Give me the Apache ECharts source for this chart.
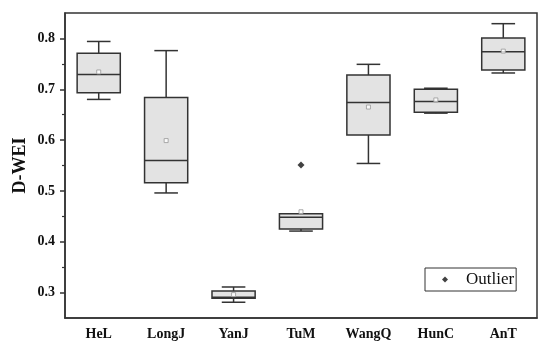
<!DOCTYPE html>
<html>
<head>
<meta charset="utf-8">
<script src="https://cdn.jsdelivr.net/npm/echarts@6/dist/echarts.min.js"></script>
<style>html,body{margin:0;padding:0;background:#fff;}#c{width:550px;height:349px;}</style>
</head>
<body>
<div id="c"></div>
<script>
var categories = ['HeL','LongJ','YanJ','TuM','WangQ','HunC','AnT'];
var mins    = [0.680,0.496,0.281,0.421,0.554,0.653,0.732];
var q1s     = [0.693,0.516,0.289,0.425,0.610,0.655,0.738];
var medians = [0.729,0.560,0.291,0.448,0.674,0.676,0.774];
var q3s     = [0.771,0.684,0.303,0.455,0.728,0.700,0.801];
var maxs    = [0.794,0.776,0.311,0.455,0.749,0.702,0.829];
var means   = [0.734,0.599,0.296,0.459,0.665,0.679,0.775];
var outlierCats = ['TuM'];
var outlierVals = [0.551];
var majorTicks = [0.3,0.4,0.5,0.6,0.7,0.8];
var minorTicks = [0.35,0.45,0.55,0.65,0.75];

var boxData = categories.map(function(c,i){return [i,mins[i],q1s[i],medians[i],q3s[i],maxs[i]];});
var meanData = categories.map(function(c,i){return [i,means[i]];});
var outData = outlierCats.map(function(c,i){return [categories.indexOf(c),outlierVals[i]];});

var lc = '#333333';
var font = 'Liberation Serif';

function renderBox(params, api){
  var x = api.value(0);
  var band = api.size([1,0])[0];
  var bw = band*0.64, cw = band*0.35;
  var pMin = api.coord([x, api.value(1)]);
  var pQ1 = api.coord([x, api.value(2)]);
  var pMed = api.coord([x, api.value(3)]);
  var pQ3 = api.coord([x, api.value(4)]);
  var pMax = api.coord([x, api.value(5)]);
  var cx = pMed[0];
  var st = {stroke: lc, lineWidth: 1.5, fill: null};
  return {type:'group', children:[
    {type:'line', shape:{x1:cx,y1:pMax[1],x2:cx,y2:pQ3[1]}, style:st},
    {type:'line', shape:{x1:cx,y1:pQ1[1],x2:cx,y2:pMin[1]}, style:st},
    {type:'line', shape:{x1:cx-cw/2,y1:pMax[1],x2:cx+cw/2,y2:pMax[1]}, style:st},
    {type:'line', shape:{x1:cx-cw/2,y1:pMin[1],x2:cx+cw/2,y2:pMin[1]}, style:st},
    {type:'rect', shape:{x:cx-bw/2,y:pQ3[1],width:bw,height:pQ1[1]-pQ3[1]}, style:{fill:'#e3e3e3',stroke:lc,lineWidth:1.5}},
    {type:'line', shape:{x1:cx-bw/2,y1:pMed[1],x2:cx+bw/2,y2:pMed[1]}, style:st}
  ]};
}

var chart = echarts.init(document.getElementById('c'));
chart.setOption({
  animation:false,
  backgroundColor:'#fff',
  grid:{left:65, top:13, right:13, bottom:31, show:true, borderColor:lc, borderWidth:1.5},
  legend:{
    data:['Outlier'], left:425, top:268, orient:'horizontal',
    borderColor:lc, borderWidth:1, borderRadius:0, padding:[3,2,3,17],
    itemWidth:6, itemHeight:6,
    textStyle:{fontFamily:font, fontSize:17, color:'#111', padding:[0,0,0,13]}
  },
  xAxis:{
    type:'category', data:categories, boundaryGap:true,
    axisLine:{lineStyle:{color:lc, width:1.5}},
    axisTick:{alignWithLabel:true, length:5, lineStyle:{color:lc, width:1.5}},
    axisLabel:{fontFamily:font, fontWeight:'bold', fontSize:14, color:'#111', margin:9},
    splitLine:{show:false}
  },
  yAxis:[{
    type:'value', min:0.25, max:0.85, interval:0.05,
    name:'D-WEI', nameLocation:'middle', nameGap:36, nameMoveOverlap:false,
    nameTextStyle:{fontFamily:font, fontWeight:'bold', fontSize:18, color:'#111'},
    axisLine:{show:true, lineStyle:{color:lc, width:1.5}},
    axisTick:{show:true, length:5, customValues:majorTicks, lineStyle:{color:lc, width:1.5}},
    axisLabel:{fontFamily:font, fontWeight:'bold', fontSize:14, color:'#111', margin:10, customValues:majorTicks,
      formatter:function(v){return v.toFixed(1);}},
    splitLine:{show:false}
  },{
    type:'value', min:0.25, max:0.85, interval:0.05, position:'left',
    axisLine:{show:false},
    axisTick:{show:true, length:3, customValues:minorTicks, lineStyle:{color:lc, width:1.2}},
    axisLabel:{show:false},
    splitLine:{show:false}
  }],
  series:[
    {type:'custom', name:'box', renderItem:renderBox, data:boxData, encode:{x:0, y:[1,2,3,4,5]}, z:2},
    {type:'scatter', name:'Mean', data:meanData, symbol:'rect', symbolSize:4,
      itemStyle:{color:'#fff', borderColor:'#999', borderWidth:1}, z:3},
    {type:'scatter', name:'Outlier', data:outData, symbol:'diamond', symbolSize:7,
      itemStyle:{color:'#111'}, z:3}
  ]
});
</script>
</body>
</html>
